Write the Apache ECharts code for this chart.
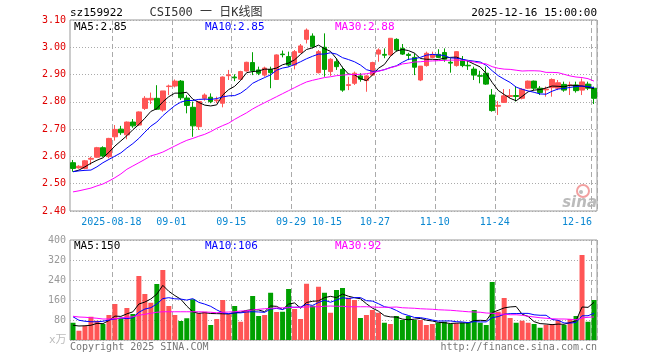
<!DOCTYPE html>
<html><head><meta charset="utf-8">
<script src="https://cdn.jsdelivr.net/npm/echarts@6/dist/echarts.min.js"></script>
<style>html,body{margin:0;padding:0;background:#fff}#c{width:660px;height:360px}</style>
</head><body><div id="c"></div>
<script>
const dates = [
'2025-08-07','2025-08-08','2025-08-11','2025-08-12','2025-08-13','2025-08-14','2025-08-15','2025-08-18','2025-08-19','2025-08-20','2025-08-21','2025-08-22','2025-08-25','2025-08-26','2025-08-27','2025-08-28','2025-08-29',
'2025-09-01','2025-09-02','2025-09-03','2025-09-04','2025-09-05','2025-09-08','2025-09-09','2025-09-10','2025-09-11','2025-09-12','2025-09-15','2025-09-16','2025-09-17','2025-09-18','2025-09-19','2025-09-22','2025-09-23','2025-09-24','2025-09-25','2025-09-26','2025-09-29','2025-09-30',
'2025-10-09','2025-10-10','2025-10-13','2025-10-14','2025-10-15','2025-10-16','2025-10-17','2025-10-20','2025-10-21','2025-10-22','2025-10-23','2025-10-24','2025-10-27','2025-10-28','2025-10-29','2025-10-30','2025-10-31',
'2025-11-03','2025-11-04','2025-11-05','2025-11-06','2025-11-07','2025-11-10','2025-11-11','2025-11-12','2025-11-13','2025-11-14','2025-11-17','2025-11-18','2025-11-19','2025-11-20','2025-11-21','2025-11-24','2025-11-25','2025-11-26','2025-11-27','2025-11-28',
'2025-12-01','2025-12-02','2025-12-03','2025-12-04','2025-12-05','2025-12-08','2025-12-09','2025-12-10','2025-12-11','2025-12-12','2025-12-15','2025-12-16'];

const openP = [2.577,2.558,2.556,2.590,2.597,2.632,2.599,2.672,2.700,2.679,2.726,2.715,2.776,2.807,2.813,2.770,2.856,2.858,2.876,2.814,2.780,2.709,2.813,2.817,2.804,2.795,2.896,2.891,2.883,2.913,2.944,2.917,2.898,2.919,2.882,2.975,2.966,2.935,2.981,3.029,3.041,2.907,3.000,2.911,2.947,2.919,2.860,2.868,2.895,2.878,2.898,2.975,2.974,2.972,3.029,2.996,2.974,2.963,2.880,2.933,2.963,2.974,2.981,2.945,2.933,2.951,2.934,2.920,2.896,2.905,2.825,2.784,2.798,2.820,2.823,2.813,2.850,2.876,2.850,2.844,2.852,2.850,2.864,2.860,2.862,2.843,2.865,2.850];
const highP = [2.587,2.568,2.587,2.599,2.635,2.637,2.668,2.715,2.712,2.728,2.737,2.765,2.821,2.834,2.861,2.840,2.863,2.882,2.880,2.824,2.801,2.801,2.831,2.831,2.819,2.893,2.917,2.901,2.914,2.947,2.982,2.929,2.929,2.929,2.974,2.988,2.984,2.990,3.012,3.069,3.051,2.990,3.051,2.960,2.960,2.929,2.892,2.911,2.905,2.898,2.947,2.996,2.996,3.033,3.033,3.012,2.980,2.978,2.931,2.984,2.984,2.993,2.996,2.960,2.986,2.968,2.951,2.929,2.914,2.929,2.847,2.803,2.847,2.847,2.858,2.850,2.878,2.878,2.858,2.856,2.886,2.880,2.874,2.874,2.874,2.886,2.874,2.856];
const lowP = [2.544,2.555,2.553,2.569,2.595,2.598,2.593,2.658,2.679,2.663,2.705,2.712,2.770,2.792,2.770,2.764,2.825,2.853,2.807,2.758,2.672,2.697,2.804,2.795,2.795,2.780,2.880,2.876,2.880,2.911,2.898,2.898,2.892,2.850,2.880,2.963,2.929,2.919,2.978,3.014,2.996,2.904,2.892,2.895,2.917,2.837,2.843,2.862,2.874,2.837,2.895,2.947,2.960,2.968,2.984,2.972,2.953,2.898,2.876,2.929,2.960,2.960,2.947,2.907,2.929,2.927,2.917,2.880,2.868,2.862,2.764,2.752,2.797,2.813,2.801,2.809,2.847,2.843,2.825,2.819,2.819,2.843,2.837,2.825,2.834,2.825,2.843,2.792];
const closeP = [2.556,2.564,2.584,2.593,2.632,2.602,2.666,2.699,2.687,2.726,2.712,2.763,2.813,2.813,2.773,2.840,2.858,2.876,2.815,2.787,2.712,2.801,2.825,2.801,2.807,2.891,2.899,2.888,2.911,2.945,2.914,2.905,2.924,2.907,2.972,2.973,2.935,2.984,3.005,3.063,3.002,2.984,2.919,2.956,2.929,2.843,2.863,2.905,2.883,2.895,2.944,2.990,2.971,3.033,2.990,2.975,2.970,2.927,2.931,2.978,2.974,2.963,2.956,2.942,2.984,2.933,2.932,2.898,2.894,2.865,2.768,2.787,2.822,2.823,2.820,2.846,2.876,2.850,2.834,2.847,2.882,2.870,2.843,2.862,2.841,2.873,2.850,2.813];

const ma5 = [2.544,2.550,2.562,2.575,2.586,2.595,2.615,2.638,2.657,2.676,2.698,2.717,2.740,2.765,2.775,2.800,2.819,2.832,2.832,2.835,2.810,2.798,2.788,2.785,2.789,2.825,2.845,2.857,2.879,2.907,2.911,2.913,2.920,2.919,2.924,2.936,2.942,2.954,2.974,2.992,2.998,3.008,2.995,2.985,2.958,2.926,2.902,2.899,2.885,2.878,2.898,2.923,2.937,2.967,2.986,2.992,2.988,2.979,2.959,2.956,2.956,2.955,2.960,2.963,2.964,2.956,2.949,2.938,2.928,2.904,2.871,2.842,2.827,2.813,2.804,2.820,2.837,2.843,2.845,2.851,2.858,2.857,2.855,2.861,2.860,2.858,2.854,2.848];
const ma10 = [2.544,2.547,2.549,2.550,2.562,2.577,2.589,2.601,2.613,2.631,2.647,2.666,2.689,2.711,2.726,2.749,2.768,2.786,2.799,2.805,2.805,2.809,2.810,2.809,2.812,2.818,2.822,2.823,2.832,2.848,2.868,2.879,2.889,2.899,2.916,2.924,2.928,2.937,2.947,2.958,2.967,2.975,2.975,2.980,2.975,2.962,2.955,2.947,2.935,2.918,2.912,2.913,2.918,2.926,2.932,2.945,2.956,2.958,2.963,2.971,2.974,2.972,2.970,2.961,2.960,2.956,2.952,2.949,2.946,2.934,2.914,2.896,2.883,2.871,2.854,2.846,2.840,2.835,2.829,2.828,2.839,2.847,2.849,2.853,2.856,2.858,2.856,2.852];
const ma30 = [2.470,2.474,2.479,2.484,2.492,2.499,2.510,2.522,2.536,2.553,2.565,2.577,2.589,2.602,2.608,2.616,2.627,2.638,2.649,2.659,2.666,2.674,2.681,2.691,2.703,2.713,2.722,2.736,2.748,2.760,2.774,2.786,2.797,2.808,2.819,2.830,2.841,2.852,2.863,2.873,2.879,2.884,2.889,2.892,2.896,2.898,2.900,2.900,2.901,2.903,2.907,2.912,2.918,2.925,2.931,2.939,2.942,2.946,2.947,2.949,2.950,2.951,2.952,2.953,2.953,2.952,2.950,2.946,2.942,2.939,2.929,2.923,2.920,2.919,2.916,2.913,2.914,2.914,2.913,2.908,2.908,2.907,2.901,2.895,2.891,2.889,2.885,2.876];

const volume = [69,37,56,93,77,64,100,144,87,128,104,256,184,149,224,280,136,100,76,87,163,107,113,60,84,160,103,136,73,120,176,96,100,189,112,113,204,124,84,225,137,213,189,109,200,208,169,160,88,100,120,109,69,64,96,80,96,80,80,60,64,69,73,64,67,69,69,120,69,60,232,113,168,88,69,77,69,64,49,61,64,80,60,84,96,340,73,160];
const vma5 = [59,56,57,59,66.4,65.4,78,95.6,94.4,104.6,112.6,143.8,151.8,164.2,183.4,218.6,194.6,177.8,163.2,135.8,112.4,106.6,109.2,106,105.4,104.8,104,108.6,111.2,118.4,121.6,120.2,113,136.2,134.6,122,143.6,148.4,127.4,150,154.8,156.6,169.6,174.6,169.6,183.8,175,169.2,165,145,127.4,115.4,97.2,92.4,91.6,83.6,81,83.2,86.4,79.2,76,70.6,69.2,66,67.4,68.4,68.4,77.8,78.8,77.4,110,118.8,128.4,132.2,134,103,94.2,73.4,65.6,64,61.4,63.6,62.8,69.8,76.8,132,130.6,150.6];
const vma10 = [93,79,75,73,73,75,80,84,88,85.5,89,110.9,123.7,129.3,144,165.6,169.2,164.8,163.7,159.6,165.5,150.6,143.5,134.6,120.6,108.6,105.3,108.9,108.6,111.9,113.2,112.1,110.8,123.7,126.5,121.8,131.9,130.7,131.8,142.3,138.4,150.1,159,151,159.8,169.3,165.8,169.4,169.8,157.3,155.6,145.2,133.2,128.7,118.3,105.5,98.2,90.2,89.4,85.4,79.8,75.8,76.2,76.2,73.3,72.2,69.5,73.5,72.4,72.4,89.2,93.6,103.1,105.5,105.7,106.5,106.5,100.9,98.9,99,82.2,78.9,68.1,67.7,70.4,96.7,97.1,106.7];
const vma30 = [95,92,91,89,87,84,84,85,88,91,93,99,103,107,111,113,113,113,113,113,113,113,112,111,109,111,112,113,116,117,120,123,125,127,128,129,129,131,131,132,133,133,135,136,135,135,133,133,133,133,132,131,131,131,132,129,128,127,125,124,123,121,120,119,117,115,113,112,111,108,107,104,103,101,101,99,95,92,89,87,85,84,84,83,81,88,91,92.3];

const labelDates = ['2025-08-18','2025-09-01','2025-09-15','2025-09-29','2025-10-15','2025-10-27','2025-11-10','2025-11-24','2025-12-16'];
const labelTexts = ['2025-08-18','09-01','09-15','09-29','10-15','10-27','11-10','11-24','12-16'];
const lineDates = ['2025-08-18','2025-09-01','2025-09-15','2025-09-29','2025-10-27','2025-11-10','2025-11-24','2025-12-16'];
const priceTicks = {min: 2.4, max: 3.1, interval: 0.1};
const volTicks = {min: 0, max: 400, interval: 80};

const RED = '#ff5555', GREEN = '#00a000';
const FONT = "'DejaVu Sans Mono', monospace";
const lblMap = {}; labelDates.forEach((d, i) => lblMap[d] = labelTexts[i]);
const lineSet = new Set(lineDates);
const lastDate = dates[dates.length - 1];
const last = a => a[a.length - 1];

const candleData = dates.map((d, i) => [openP[i], closeP[i], lowP[i], highP[i]]);
const volData = volume.map((v, i) => ({value: v, itemStyle: {color: closeP[i] >= openP[i] ? RED : GREEN}}));

const dash = {color: '#aaa', type: [5, 3], width: 1};
const dot = {color: '#aaa', type: [1, 2], width: 1};

function xAxisCfg(gridIndex, showLabel) {
  return {
    type: 'category', gridIndex, data: dates, boundaryGap: true,
    axisLine: {show: false}, axisTick: {show: false},
    axisLabel: {
      show: showLabel, interval: (i, v) => v in lblMap, margin: 6,
      formatter: v => v === lastDate ? '{b|' + lblMap[v] + '}' : '{a|' + lblMap[v] + '}',
      rich: {
        a: {color: '#0a88d2', fontFamily: FONT, fontSize: 10, padding: [0, 7, 0, 0]},
        b: {color: '#0a88d2', fontFamily: FONT, fontSize: 10, padding: [0, 34, 0, 0]}
      }
    },
    splitLine: {show: true, interval: (i, v) => lineSet.has(v), lineStyle: dash}
  };
}

const chart = echarts.init(document.getElementById('c'), null, {renderer: 'canvas'});
const t = (text, x, y, fill, opts) => Object.assign({type: 'text', x, y, silent: true,
  style: Object.assign({text, fill, font: '10px ' + FONT, align: 'left', verticalAlign: 'middle'}, opts || {})});

chart.setOption({
  animation: false,
  backgroundColor: '#fff',
  grid: [
    {left: 70, top: 20, width: 527, height: 191, show: true, borderColor: '#999', borderWidth: 1, containLabel: false},
    {left: 70, top: 240, width: 527, height: 100, show: true, borderColor: '#999', borderWidth: 1, containLabel: false}
  ],
  xAxis: [xAxisCfg(0, true), xAxisCfg(1, false)],
  yAxis: [
    {type: 'value', gridIndex: 0, min: priceTicks.min, max: priceTicks.max, interval: priceTicks.interval, scale: true,
     axisLine: {show: false}, axisTick: {show: false},
     axisLabel: {color: '#e00000', fontFamily: FONT, fontSize: 10, margin: 4, formatter: v => v.toFixed(2)},
     splitLine: {show: true, lineStyle: dot}},
    {type: 'value', gridIndex: 1, min: volTicks.min, max: volTicks.max, interval: volTicks.interval,
     axisLine: {show: false}, axisTick: {show: false},
     axisLabel: {color: '#999', fontFamily: FONT, fontSize: 10, margin: 4, formatter: v => v === 0 ? '' : String(v)},
     splitLine: {show: true, lineStyle: dot}}
  ],
  series: [
    {type: 'candlestick', xAxisIndex: 0, yAxisIndex: 0, data: candleData, barWidth: 5,
     itemStyle: {color: RED, color0: GREEN, borderColor: RED, borderColor0: GREEN, borderWidth: 1}},
    {type: 'line', xAxisIndex: 0, yAxisIndex: 0, data: ma5, showSymbol: false, lineStyle: {color: '#000', width: 1}, silent: true},
    {type: 'line', xAxisIndex: 0, yAxisIndex: 0, data: ma10, showSymbol: false, lineStyle: {color: '#0000ff', width: 1}, silent: true},
    {type: 'line', xAxisIndex: 0, yAxisIndex: 0, data: ma30, showSymbol: false, lineStyle: {color: '#ff00ff', width: 1}, silent: true},
    {type: 'bar', xAxisIndex: 1, yAxisIndex: 1, data: volData, barWidth: 5},
    {type: 'line', xAxisIndex: 1, yAxisIndex: 1, data: vma5, showSymbol: false, lineStyle: {color: '#000', width: 1}, silent: true},
    {type: 'line', xAxisIndex: 1, yAxisIndex: 1, data: vma10, showSymbol: false, lineStyle: {color: '#0000ff', width: 1}, silent: true},
    {type: 'line', xAxisIndex: 1, yAxisIndex: 1, data: vma30, showSymbol: false, lineStyle: {color: '#ff00ff', width: 1}, silent: true}
  ],
  graphic: [
    t('sz159922', 70, 13, '#000', {font: '11px ' + FONT}),
    t('CSI500 一 日K线图', 206, 13, '#333', {font: "12px 'DejaVu Sans Mono','Noto Sans CJK SC'", align: 'center'}),
    t(lastDate + ' 15:00:00', 597, 13, '#000', {font: '11px ' + FONT, align: 'right'}),
    t('MA5:' + last(ma5).toFixed(2), 74, 27, '#000', {font: '11px ' + FONT}),
    t('MA10:' + last(ma10).toFixed(2), 205, 27, '#0000ff', {font: '11px ' + FONT}),
    t('MA30:' + last(ma30).toFixed(2), 335, 27, '#ff00ff', {font: '11px ' + FONT}),
    t('MA5:' + Math.floor(last(vma5)), 74, 246, '#000', {font: '11px ' + FONT}),
    t('MA10:' + Math.floor(last(vma10)), 205, 246, '#0000ff', {font: '11px ' + FONT}),
    t('MA30:' + Math.floor(last(vma30)), 335, 246, '#ff00ff', {font: '11px ' + FONT}),
    t('x万', 49, 340, '#bbb', {font: "11px 'DejaVu Sans Mono','Noto Sans CJK SC'"}),
    t('Copyright 2025 SINA.COM', 70, 347, '#777', {font: '10px ' + FONT}),
    t('http://finance.sina.com.cn', 597, 347, '#777', {font: '10px ' + FONT, align: 'right'}),
    {type: 'circle', shape: {cx: 583, cy: 191, r: 6}, style: {fill: 'none', stroke: '#f2a0a0', lineWidth: 2}, silent: true},
    {type: 'circle', shape: {cx: 581, cy: 192, r: 2}, style: {fill: '#bbb'}, silent: true},
    t('sina', 597, 203, '#bbb', {font: "italic bold 15px 'DejaVu Sans'", align: 'right'})
  ]
});
</script>
</body></html>
